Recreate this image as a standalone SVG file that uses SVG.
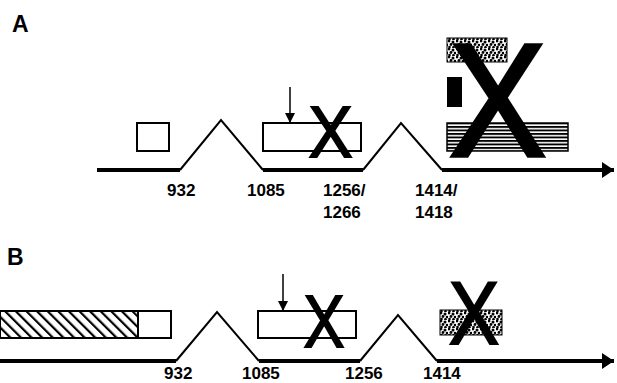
<svg xmlns="http://www.w3.org/2000/svg" width="617" height="383" viewBox="0 0 617 383">
<style>
.lbl{font-family:"Liberation Sans",Arial,sans-serif;font-weight:bold;font-size:17px;fill:#000}
.panel{font-family:"Liberation Sans",Arial,sans-serif;font-weight:bold;font-size:23px;fill:#000}
.cross{font-family:"Liberation Sans",Arial,sans-serif;font-weight:normal;fill:#000;stroke:#000;text-anchor:middle;stroke-linejoin:miter}
.box{fill:#fff;stroke:#000;stroke-width:2}
.base{fill:none;stroke:#000;stroke-width:4}
.intron{fill:none;stroke:#000;stroke-width:2}
.ptr{stroke:#000;stroke-width:1.5;fill:none}
</style>
<defs>
<marker id="ah" viewBox="0 0 10 10" refX="10" refY="5" markerWidth="10" markerHeight="10" markerUnits="userSpaceOnUse" orient="auto">
<path d="M0,0 L10,5 L0,10 z" fill="#000"/>
</marker>
<marker id="bigah" viewBox="0 0 12 16" refX="12" refY="8" markerWidth="12" markerHeight="16" markerUnits="userSpaceOnUse" orient="auto">
<path d="M0,0 L12,8 L0,16 z" fill="#000"/>
</marker>
<pattern id="stipple" width="8" height="8" patternUnits="userSpaceOnUse">
<rect width="8" height="8" fill="#fff"/>
<circle cx="1" cy="1" r="1.4" fill="#000"/>
<circle cx="5" cy="2" r="1.5" fill="#000"/>
<circle cx="3" cy="4.5" r="1.4" fill="#000"/>
<circle cx="7" cy="5" r="1.3" fill="#000"/>
<circle cx="1.5" cy="7" r="1.3" fill="#000"/>
<circle cx="5.5" cy="7.5" r="1.4" fill="#000"/>
</pattern>
<pattern id="hstripe" width="6" height="3.5" patternUnits="userSpaceOnUse">
<rect width="6" height="3.5" fill="#fff"/>
<rect y="0" width="6" height="1.9" fill="#000"/>
</pattern>
<pattern id="diag" width="7.5" height="7.5" patternUnits="userSpaceOnUse" patternTransform="rotate(-45)">
<rect width="7.5" height="7.5" fill="#fff"/>
<rect x="0" y="0" width="2.2" height="7.5" fill="#000"/>
</pattern>
</defs>

<text class="panel" x="12" y="32">A</text>
<text class="panel" x="7" y="265">B</text>

<g id="connectors">
<polyline class="base" points="97,170 180,170"/>
<polyline class="intron" points="180,170 221,120 263,170"/>
<polyline class="base" points="263,170 363,170"/>
<polyline class="intron" points="363,170 401,123 442,170"/>
<line class="base" x1="442" y1="170" x2="614" y2="170" marker-end="url(#bigah)"/>
<line class="ptr" x1="290" y1="87" x2="290" y2="123" marker-end="url(#ah)"/>

<polyline class="base" points="0,361 176,361"/>
<polyline class="intron" points="176,361 217,312 259,361"/>
<polyline class="base" points="259,361 360,361"/>
<polyline class="intron" points="360,361 398,315 437,361"/>
<line class="base" x1="437" y1="361" x2="614" y2="361" marker-end="url(#bigah)"/>
<line class="ptr" x1="283" y1="274" x2="283" y2="311" marker-end="url(#ah)"/>
</g>

<g id="a-exon1"><rect class="box" x="137" y="123" width="32" height="28"/></g>
<g id="a-exon2"><rect class="box" x="263" y="123" width="98" height="28"/>
<text class="cross" transform="translate(330.5,157) scale(0.92,1)" font-size="72" stroke-width="1.8">X</text></g>
<g id="a-exon3">
<rect x="447" y="38" width="60" height="24" fill="url(#stipple)" stroke="#000" stroke-width="1"/>
<rect x="447" y="77" width="15" height="30" fill="#000"/>
<rect x="447" y="123" width="121" height="28" fill="url(#hstripe)" stroke="#000" stroke-width="1.5"/>
<text class="cross" transform="translate(497.5,156) scale(0.9,1)" font-size="162" stroke-width="3.5">X</text>
</g>

<g id="a-labels">
<text class="lbl" x="167" y="196">932</text>
<text class="lbl" x="247" y="196">1085</text>
<text class="lbl" x="323" y="196">1256/</text>
<text class="lbl" x="323" y="218">1266</text>
<text class="lbl" x="415" y="196">1414/</text>
<text class="lbl" x="415" y="218">1418</text>
</g>

<g id="b-exon1">
<rect x="0" y="311" width="138" height="27" fill="url(#diag)" stroke="#000" stroke-width="2"/>
<rect class="box" x="138" y="311" width="33" height="27"/>
</g>
<g id="b-exon2"><rect class="box" x="258" y="311" width="98" height="27"/>
<text class="cross" transform="translate(324,347) scale(0.82,1)" font-size="75" stroke-width="1.8">X</text></g>
<g id="b-exon3">
<rect x="440" y="310" width="62" height="25" fill="url(#stipple)" stroke="#000" stroke-width="1"/>
<text class="cross" transform="translate(474,344) scale(0.85,1)" font-size="89" stroke-width="2">X</text>
</g>

<g id="b-labels">
<text class="lbl" x="164" y="379">932</text>
<text class="lbl" x="242" y="379">1085</text>
<text class="lbl" x="345" y="379">1256</text>
<text class="lbl" x="423" y="379">1414</text>
</g>
</svg>
